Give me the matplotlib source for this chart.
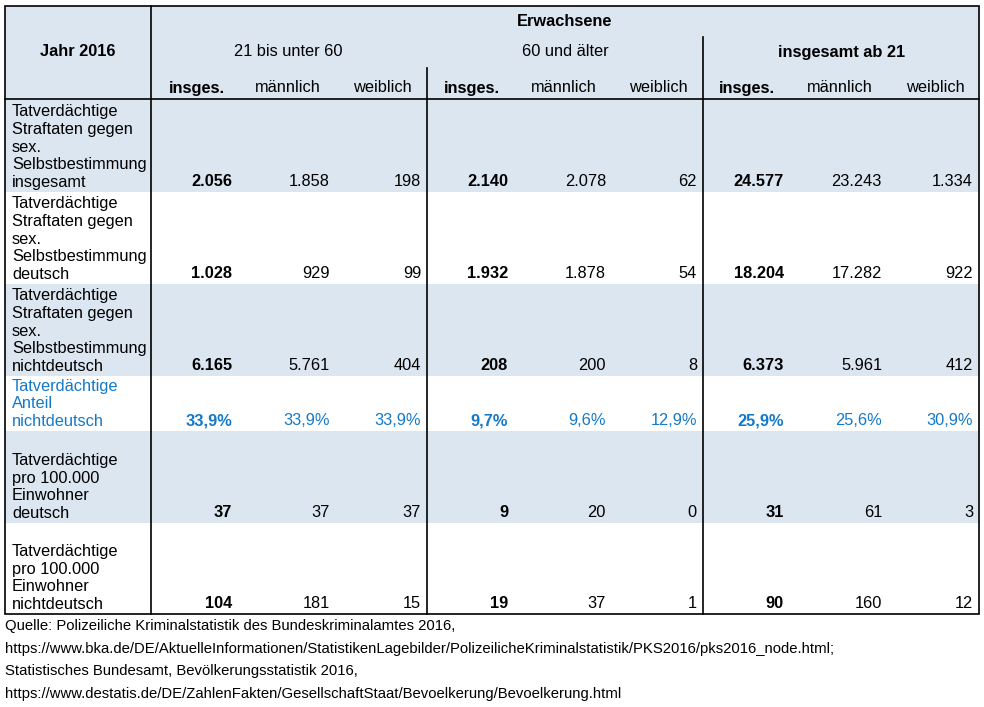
import matplotlib.pyplot as plt
from matplotlib.patches import Rectangle

# table content
groups = ["21 bis unter 60", "60 und älter", "insgesamt ab 21"]
sub_cols = ["insges.", "männlich", "weiblich"]
row_labels = [
    "Tatverdächtige\nStraftaten gegen\nsex.\nSelbstbestimmung\ninsgesamt",
    "Tatverdächtige\nStraftaten gegen\nsex.\nSelbstbestimmung\ndeutsch",
    "Tatverdächtige\nStraftaten gegen\nsex.\nSelbstbestimmung\nnichtdeutsch",
    "Tatverdächtige\nAnteil\nnichtdeutsch",
    "Tatverdächtige\npro 100.000\nEinwohner\ndeutsch",
    "Tatverdächtige\npro 100.000\nEinwohner\nnichtdeutsch",
]
values = [
    ["2.056", "1.858", "198", "2.140", "2.078", "62", "24.577", "23.243", "1.334"],
    ["1.028", "929", "99", "1.932", "1.878", "54", "18.204", "17.282", "922"],
    ["6.165", "5.761", "404", "208", "200", "8", "6.373", "5.961", "412"],
    ["33,9%", "33,9%", "33,9%", "9,7%", "9,6%", "12,9%", "25,9%", "25,6%", "30,9%"],
    ["37", "37", "37", "9", "20", "0", "31", "61", "3"],
    ["104", "181", "15", "19", "37", "1", "90", "160", "12"],
]
footer = [
    "Quelle: Polizeiliche Kriminalstatistik des Bundeskriminalamtes 2016,",
    "https://www.bka.de/DE/AktuelleInformationen/StatistikenLagebilder/PolizeilicheKriminalstatistik/PKS2016/pks2016_node.html;",
    "Statistisches Bundesamt, Bevölkerungsstatistik 2016,",
    "https://www.destatis.de/DE/ZahlenFakten/GesellschaftStaat/Bevoelkerung/Bevoelkerung.html",
]

shade = "#DCE6F1"
blue = "#1479C9"
plt.rcParams['font.family'] = ['Liberation Sans', 'DejaVu Sans']

fig = plt.figure(figsize=(9.84, 7.07), dpi=100)
ax = fig.add_axes([0, 0, 1, 1])
ax.set_xlim(0, 984)
ax.set_ylim(707, 0)
ax.axis("off")

left, right, top, bottom = 5, 979, 6, 614
head_bottom = 99
row_edges = [99, 192, 284, 376, 431, 523, 614]
row_shaded = [True, False, True, False, True, False]
col_div = 151
group_left = [151, 427, 703]
col_right = [232, 330, 421, 508, 606, 697, 784, 882, 973]
sub_centers = [197, 288, 382, 472, 564, 658, 747, 840, 935]
fs = 11.8

# header background
ax.add_patch(Rectangle((left, top), right - left, head_bottom - top, facecolor=shade, edgecolor="none"))
for i, sh in enumerate(row_shaded):
    if sh:
        ax.add_patch(Rectangle((left, row_edges[i]), right - left, row_edges[i + 1] - row_edges[i],
                               facecolor=shade, edgecolor="none"))

# lines
ax.add_patch(Rectangle((left, top), right - left, bottom - top, facecolor="none", edgecolor="black", lw=1.2))
ax.plot([left, right], [head_bottom, head_bottom], color="black", lw=1.2)
ax.plot([col_div, col_div], [top, bottom], color="black", lw=1.2)
ax.plot([group_left[1], group_left[1]], [68, bottom], color="black", lw=1.2)
ax.plot([group_left[2], group_left[2]], [37, bottom], color="black", lw=1.2)

# header text
ax.text(565, 21, "Erwachsene", ha="center", va="center", fontsize=fs, fontweight="bold")
ax.text(78, 52, "Jahr 2016", ha="center", va="center", fontsize=fs, fontweight="bold")
group_centers = [288, 565, 842]
for g, cx in zip(groups, group_centers):
    ax.text(cx, 52, g, ha="center", va="center", fontsize=fs,
            fontweight="bold" if g.startswith("insgesamt") else "normal")
for k, cx in enumerate(sub_centers):
    name = sub_cols[k % 3]
    ax.text(cx, 88, name, ha="center", va="center", fontsize=fs,
            fontweight="bold" if k % 3 == 0 else "normal")

# body
for i, (lab, vals) in enumerate(zip(row_labels, values)):
    color = blue if i == 3 else "black"
    ybase = row_edges[i + 1] - 2
    ax.text(12, ybase, lab, ha="left", va="bottom", fontsize=fs, color=color, linespacing=1.22)
    for k, v in enumerate(vals):
        ax.text(col_right[k], ybase - 1, v, ha="right", va="bottom", fontsize=fs, color=color,
                fontweight="bold" if k % 3 == 0 else "normal")

# footer
for j, line in enumerate(footer):
    ax.text(5, 626 + j * 22.7, line, ha="left", va="center", fontsize=10.7)

fig.savefig("out.png", dpi=100)
